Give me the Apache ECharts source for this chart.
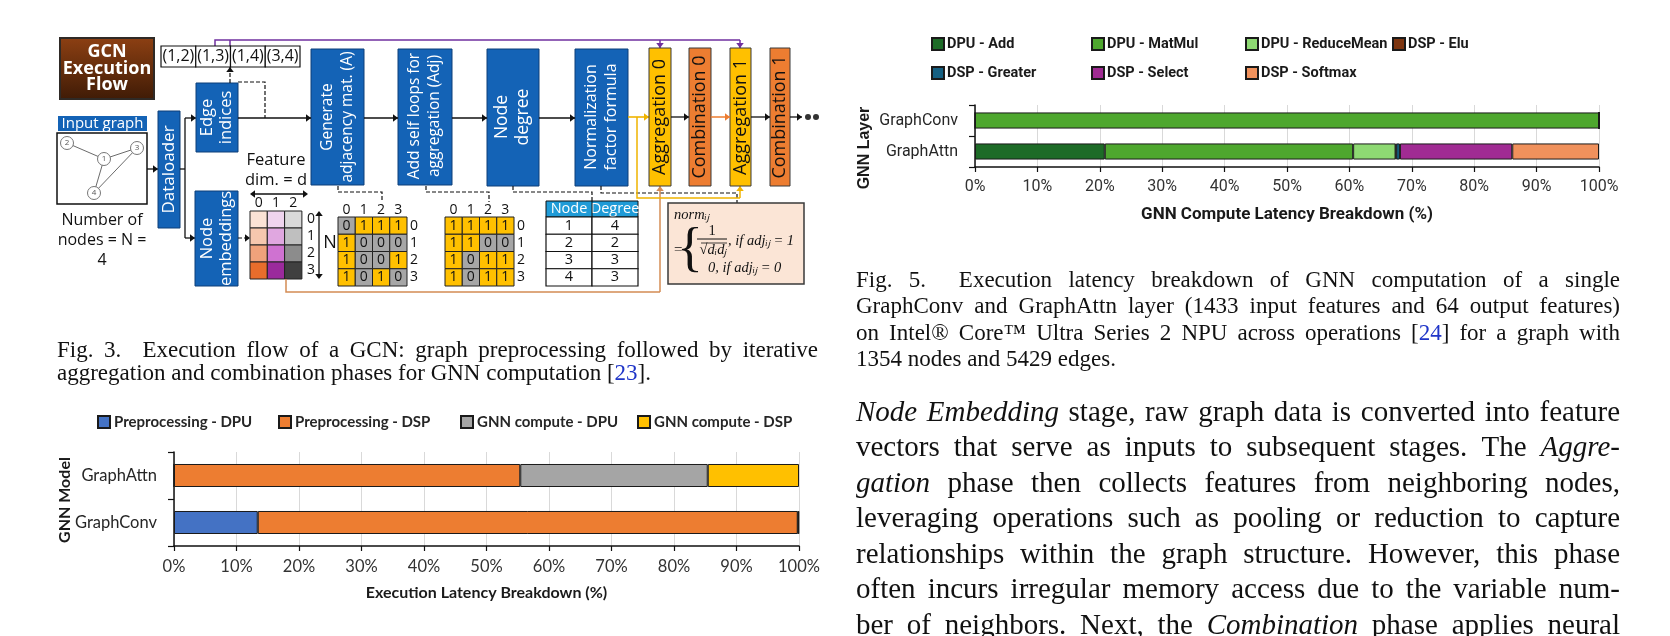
<!DOCTYPE html>
<html><head><meta charset="utf-8">
<script src="https://cdn.jsdelivr.net/npm/echarts@6/dist/echarts.min.js"></script>
<style>html,body{margin:0;padding:0;background:#fff}#c{width:1670px;height:636px}</style>
</head><body><div id="c"></div>
<script>
// ---------- DATA ----------
// Bottom-left chart: execution latency breakdown
const modelCategories = ['GraphConv', 'GraphAttn'];
const preprocessingDPU = [13.4, 0];
const preprocessingDSP = [86.4, 55.4];
const gnnComputeDPU = [0.1, 30.0];
const gnnComputeDSP = [0.1, 14.6];
const execSeriesNames = ['Preprocessing - DPU', 'Preprocessing - DSP', 'GNN compute - DPU', 'GNN compute - DSP'];

// Fig. 5 chart (top-right): GNN compute latency breakdown
const layerCategories = ['GraphAttn', 'GraphConv'];
const dpuAdd = [20.8, 0];
const dpuMatMul = [39.8, 100];
const dpuReduceMean = [6.8, 0];
const dspElu = [0.1, 0];
const dspGreater = [0.6, 0];
const dspSelect = [18.0, 0];
const dspSoftmax = [13.9, 0];
const opSeriesNames = ['DPU - Add', 'DPU - MatMul', 'DPU - ReduceMean', 'DSP - Elu', 'DSP - Greater', 'DSP - Select', 'DSP - Softmax'];

const percentTicks = [0, 10, 20, 30, 40, 50, 60, 70, 80, 90, 100];

// Diagram data
const edgeTuples = ['(1,2)', '(1,3)', '(1,4)', '(3,4)'];
const adjA = [[0,1,1,1],[1,0,0,0],[1,0,0,1],[1,0,1,0]];
const adjSelf = [[1,1,1,1],[1,1,0,0],[1,0,1,1],[1,0,1,1]];
const degreeNodes = ['1','2','3','4'];
const degreeValues = ['4','2','3','3'];

// Text
const fig3Caption = ['Fig. 3.  Execution flow of a GCN: graph preprocessing followed by iterative',
  'aggregation and combination phases for GNN computation [{23}].'];
const fig5Caption = ['Fig. 5.  Execution latency breakdown of GNN computation of a single',
  'GraphConv and GraphAttn layer (1433 input features and 64 output features)',
  'on Intel® Core™ Ultra Series 2 NPU across operations [{24}] for a graph with',
  '1354 nodes and 5429 edges.'];
const paragraph = ['*Node Embedding* stage, raw graph data is converted into feature',
  'vectors that serve as inputs to subsequent stages. The *Aggre-*',
  '*gation* phase then collects features from neighboring nodes,',
  'leveraging operations such as pooling or reduction to capture',
  'relationships within the graph structure. However, this phase',
  'often incurs irregular memory access due to the variable num-',
  'ber of neighbors. Next, the *Combination* phase applies neural'];

// ---------- GRAPHIC HELPERS ----------
const G = [];
const SANS = 'Open Sans';
function rect(x, y, w, h, fill, stroke, lw) {
  G.push({type:'rect', silent:true, shape:{x:x, y:y, width:w, height:h}, style:{fill:fill, stroke:stroke || null, lineWidth:lw || 1}});
}
function txt(x, y, t, o) {
  o = o || {};
  G.push({type:'text', silent:true, x:x, y:y, rotation:o.rot || 0, style:{text:t, fontSize:o.size || 14,
    fontFamily:o.family || SANS, fontWeight:o.weight || 'normal', fontStyle:o.style || 'normal',
    fill:o.color || '#111', align:o.align || 'center', verticalAlign:'middle', lineHeight:o.lh || undefined}});
}
function pline(points, color, lw, dash) {
  G.push({type:'polyline', silent:true, shape:{points:points}, style:{stroke:color, lineWidth:lw || 1.2, lineDash:dash || null, fill:null}});
}
function head(x, y, dir, color, s) {
  s = s || 5; const w = s * 0.75; let p;
  if (dir === 'r') p = [[x, y], [x - s, y - w], [x - s, y + w]];
  if (dir === 'l') p = [[x, y], [x + s, y - w], [x + s, y + w]];
  if (dir === 'u') p = [[x, y], [x - w, y + s], [x + w, y + s]];
  if (dir === 'd') p = [[x, y], [x - w, y - s], [x + w, y - s]];
  G.push({type:'polygon', silent:true, shape:{points:p}, style:{fill:color}});
}
function arrow(points, color, lw, dash) {
  pline(points, color, lw, dash);
  const a = points[points.length - 2], b = points[points.length - 1];
  let dir = b[0] > a[0] ? 'r' : b[0] < a[0] ? 'l' : b[1] < a[1] ? 'u' : 'd';
  head(b[0], b[1], dir, color);
}

// ---------- DIAGRAM ----------
const BLUE = '#1463b6', BLUE_B = '#0d3f78';
const R90 = Math.PI / 2;
// Title box
rect(60, 38, 94, 61, new echarts.graphic.LinearGradient(0, 0, 0, 1, [{offset:0, color:'#8d4013'}, {offset:1, color:'#3f1b06'}]), '#2f2a26', 2);
txt(107, 52, 'GCN', {size:18, weight:'bold', color:'#fff'});
txt(107, 68.5, 'Execution', {size:18, weight:'bold', color:'#fff'});
txt(107, 85, 'Flow', {size:18, weight:'bold', color:'#fff'});
// purple edges
pline([[215, 46], [215, 40], [740, 40]], '#7030a0', 1.5);
pline([[230, 46], [230, 40]], '#7030a0', 1.5);
arrow([[660, 40], [660, 48]], '#7030a0', 1.5);
arrow([[740, 40], [740, 48]], '#7030a0', 1.5);
// edge tuples
edgeTuples.forEach(function (t, i) {
  rect(161 + i * 34.75, 46, 34.75, 21, '#fff', '#111', 1.2);
  txt(161 + i * 34.75 + 17.4, 56.5, t, {size:16});
});
// input graph
rect(58, 116, 89, 15, BLUE);
txt(102.5, 123.5, 'Input graph', {size:15, color:'#fff'});
rect(57, 133, 90, 71, '#fff', '#111', 1.5);
const nodePos = {1:[104, 159], 2:[67, 143], 3:[137, 148], 4:[94, 193]};
[[2,1],[1,3],[1,4],[3,4]].forEach(function (e) { pline([nodePos[e[0]], nodePos[e[1]]], '#444', 0.8); });
Object.keys(nodePos).forEach(function (k) {
  G.push({type:'circle', silent:true, shape:{cx:nodePos[k][0], cy:nodePos[k][1], r:6.5}, style:{fill:'#fff', stroke:'#777', lineWidth:1}});
  txt(nodePos[k][0], nodePos[k][1], k, {size:8, color:'#555'});
});
txt(102, 220, 'Number of', {size:16});
txt(102, 240, 'nodes = N =', {size:16});
txt(102, 260, '4', {size:16});
arrow([[147, 169], [158, 169]], '#111', 1.3);
// dataloader
rect(158, 111, 22, 117, BLUE, BLUE_B, 1);
txt(169, 169.5, 'Dataloader', {size:17, color:'#fff', rot:R90});
pline([[180, 169], [185, 169]], '#111', 1.3);
pline([[185, 118], [185, 238]], '#111', 1.3);
arrow([[185, 118], [196, 118]], '#111', 1.3);
arrow([[185, 238], [195, 238]], '#111', 1.3);
// edge indices / node embeddings
rect(196, 83, 42, 69, BLUE, BLUE_B, 1);
txt(217, 117.5, 'Edge\nindices', {size:16.5, color:'#fff', rot:R90, lh:19});
rect(195, 191, 43, 95, BLUE, BLUE_B, 1);
txt(216.5, 238.5, 'Node\nembeddings', {size:16.5, color:'#fff', rot:R90, lh:19});
arrow([[230, 83], [230, 67]], '#111', 1.2, [4, 2]);
pline([[238, 82], [265, 82], [265, 118]], '#111', 1.2, [4, 2]);
arrow([[238, 238], [250, 238]], '#111', 1.2, [4, 2]);
// feature dim
txt(276, 160, 'Feature', {size:16.5});
txt(276, 180, 'dim. = d', {size:16.5});
pline([[252, 194], [306, 194]], '#111', 1.3);
head(250, 194, 'l', '#111'); head(308, 194, 'r', '#111');
const featCols = [['#fbe2d5', '#f6c7ae', '#f0a27b', '#e86d2c'], ['#efd4ee', '#e0a7e0', '#cf72d1', '#9b2a9c'], ['#d9d9d9', '#bfbfbf', '#8c8c8c', '#404040']];
for (let c = 0; c < 3; c++) {
  txt(258.7 + c * 17.3, 203, String(c), {size:14});
  for (let r = 0; r < 4; r++) rect(250 + c * 17.3, 211 + r * 17, 17.3, 17, featCols[c][r], '#222', 1);
}
for (let r = 0; r < 4; r++) txt(311, 219.5 + r * 17, String(r), {size:14});
pline([[319, 213], [319, 277]], '#111', 1.3);
head(319, 211, 'u', '#111'); head(319, 279, 'd', '#111');
txt(330, 243, 'N', {size:18});
// matrices
function matrix(x0, vals) {
  const cs = 17.25;
  for (let c = 0; c < 4; c++) txt(x0 + cs * (c + 0.5), 210, String(c), {size:14});
  for (let r = 0; r < 4; r++) {
    for (let c = 0; c < 4; c++) {
      rect(x0 + c * cs, 217 + r * cs, cs, cs, vals[r][c] ? '#ffc000' : '#a6a6a6', '#222', 1);
      txt(x0 + cs * (c + 0.5), 217 + cs * (r + 0.5), String(vals[r][c]), {size:14});
    }
    txt(x0 + 4 * cs + 7, 217 + cs * (r + 0.5), String(r), {size:14});
  }
}
matrix(338, adjA);
matrix(445, adjSelf);
// main blue boxes
rect(311, 49, 53, 136, BLUE, BLUE_B, 1);
txt(337.5, 117, 'Generate\nadjacency mat. (A)', {size:15.5, color:'#fff', rot:R90, lh:20});
rect(398, 49, 54, 136, BLUE, BLUE_B, 1);
txt(425, 116, 'Add self loops for\naggregation (Adj)', {size:15.5, color:'#fff', rot:R90, lh:20});
rect(487, 49, 52, 137, BLUE, BLUE_B, 1);
txt(513, 117, 'Node\ndegree', {size:17.5, color:'#fff', rot:R90, lh:21});
rect(575, 49, 53, 137, BLUE, BLUE_B, 1);
txt(601.5, 117, 'Normalization\nfactor formula', {size:16, color:'#fff', rot:R90, lh:20});
arrow([[238, 118], [311, 118]], '#111', 1.3);
arrow([[364, 118], [398, 118]], '#111', 1.3);
arrow([[452, 118], [487, 118]], '#111', 1.3);
arrow([[539, 118], [575, 118]], '#111', 1.3);
// dashed connectors
pline([[338, 186], [338, 192], [382, 192], [382, 202]], '#111', 1.2, [4, 2]);
pline([[426, 186], [426, 192], [489, 192], [489, 202]], '#111', 1.2, [4, 2]);
pline([[513, 186], [513, 192], [592, 192], [592, 201]], '#111', 1.2, [4, 2]);
pline([[601, 186], [601, 193], [737, 193], [737, 203]], '#111', 1.2, [4, 2]);
// degree table
rect(546, 201, 92, 16, '#1f9bd7', '#111', 1);
txt(569, 209, 'Node', {size:14.5, color:'#fff'});
txt(615, 209, 'Degree', {size:14.5, color:'#fff'});
for (let r = 0; r < 4; r++) {
  rect(546, 217 + r * 17.25, 46, 17.25, '#fff', '#111', 1.2);
  rect(592, 217 + r * 17.25, 46, 17.25, '#fff', '#111', 1.2);
  txt(569, 217 + r * 17.25 + 8.6, degreeNodes[r], {size:14.5});
  txt(615, 217 + r * 17.25 + 8.6, degreeValues[r], {size:14.5});
}
pline([[592, 201], [592, 217]], '#111', 1);
// formula box
rect(668, 203, 136, 81, '#fbe5d6', '#3a3a3a', 1.5);
const SER = 'Liberation Serif';
txt(674, 215, 'normᵢⱼ', {size:14.5, family:SER, style:'italic', align:'left'});
txt(674, 250, '=', {size:15, family:SER, align:'left'});
txt(690, 251, '{', {size:54, family:SER, align:'center'});
txt(712, 231, '1', {size:14.5, family:SER});
pline([[697, 239], [727, 239]], '#111', 1);
txt(713, 250, '√dᵢdⱼ', {size:14.5, family:SER, style:'italic'});
pline([[701, 243], [727, 243]], '#111', 0.8);
txt(728, 241, ', if adjᵢⱼ = 1', {size:14.5, family:SER, style:'italic', align:'left'});
txt(708, 268, '0, if adjᵢⱼ = 0', {size:14.5, family:SER, style:'italic', align:'left'});
// colored flows
pline([[286, 279], [286, 292], [660, 292]], '#d48c54', 1.5);
arrow([[660, 292], [660, 186]], '#d48c54', 1.5);
arrow([[628, 117], [649, 117]], '#f0b400', 1.6);
pline([[637, 117], [637, 198], [740, 198]], '#f0b400', 1.5);
arrow([[740, 198], [740, 186]], '#f0b400', 1.5);
// aggregation / combination
rect(649, 48, 22, 138, '#ffc000', '#3a3a3a', 1);
txt(660, 117, 'Aggregation 0', {size:18, rot:R90});
rect(689, 48, 22, 138, '#ed7d31', '#3a3a3a', 1);
txt(700, 117, 'Combination 0', {size:18, rot:R90});
rect(730, 48, 21, 138, '#ffc000', '#3a3a3a', 1);
txt(740.5, 117, 'Aggregation 1', {size:18, rot:R90});
rect(770, 48, 20, 138, '#ed7d31', '#3a3a3a', 1);
txt(780, 117, 'Combination 1', {size:18, rot:R90});
arrow([[671, 117], [689, 117]], '#111', 1.3);
arrow([[711, 117], [730, 117]], '#ed7d31', 1.5);
arrow([[751, 117], [770, 117]], '#111', 1.3);
arrow([[790, 117], [802, 117]], '#111', 1.3);
G.push({type:'circle', silent:true, shape:{cx:808, cy:117, r:3}, style:{fill:'#333'}});
G.push({type:'circle', silent:true, shape:{cx:816, cy:117, r:3}, style:{fill:'#333'}});

// ---------- TEXT LAYOUT ----------
const mctx = document.createElement('canvas').getContext('2d');
function mw(seg, size) { mctx.font = (seg.i ? 'italic ' : '') + size + 'px "Liberation Serif"'; return mctx.measureText(seg.t).width; }
function parseLine(str, st) {
  const words = [];
  str.split(' ').forEach(function (w) {
    const segs = []; let cur = '';
    const flush = function () { if (cur) { segs.push({t:cur, i:st.i, b:st.b}); cur = ''; } };
    for (const ch of w) {
      if (ch === '*') { flush(); st.i = !st.i; }
      else if (ch === '{') { flush(); st.b = true; }
      else if (ch === '}') { flush(); st.b = false; }
      else cur += ch;
    }
    flush(); words.push(segs);
  });
  return words;
}
function layoutBlock(lines, x0, x1, y0, lh, size, justifyLast) {
  const st = {i:false, b:false};
  lines.forEach(function (str, li) {
    const words = parseLine(str, st);
    const widths = words.map(function (ws) { return ws.reduce(function (s, g) { return s + mw(g, size); }, 0); });
    const total = widths.reduce(function (a, b) { return a + b; }, 0);
    const justify = li < lines.length - 1 || justifyLast;
    const gap = justify && words.length > 1 ? (x1 - x0 - total) / (words.length - 1) : mw({t:' ', i:false}, size);
    let x = x0; const y = y0 + li * lh;
    words.forEach(function (ws, k) {
      let xx = x;
      ws.forEach(function (g) {
        G.push({type:'text', silent:true, x:xx, y:y, style:{text:g.t, fontFamily:'Liberation Serif', fontSize:size,
          fontStyle:g.i ? 'italic' : 'normal', fill:g.b ? '#1f35c8' : '#111', align:'left', verticalAlign:'middle'}});
        xx += mw(g, size);
      });
      x += widths[k] + gap;
    });
  });
}
layoutBlock(fig3Caption, 57, 818, 351, 23, 23, false);
layoutBlock(fig5Caption, 856, 1620, 281, 26.4, 23, false);
layoutBlock(paragraph, 856, 1620, 413, 35.5, 29, true);

// axis names (rotated)
txt(65, 500, 'GNN Model', {size:16, weight:'bold', family:'Lato', color:'#1a1a1a', rot:R90});
txt(865, 148, 'GNN Layer', {size:16, weight:'bold', family:'Liberation Sans', color:'#1a1a1a', rot:R90});

// ---------- CHART ----------
const execColors = ['#4472c4', '#ed7d31', '#a5a5a5', '#ffc000'];
const execData = [preprocessingDPU, preprocessingDSP, gnnComputeDPU, gnnComputeDSP];
const opColors = ['#1d6b27', '#4ea72e', '#8ed973', '#7d3510', '#156082', '#a02b93', '#f0915c'];
const opData = [dpuAdd, dpuMatMul, dpuReduceMean, dspElu, dspGreater, dspSelect, dspSoftmax];

function xAxisCfg(grid, family, name, size, nameSize) {
  return {gridIndex:grid, type:'value', min:0, max:100, interval:10,
    axisLabel:{formatter:function (v) { return percentTicks.indexOf(v) >= 0 ? v + '%' : ''; }, fontFamily:family, fontSize:size, color:'#333', margin:12},
    axisLine:{show:true, lineStyle:{color:'#111', width:1.5}},
    axisTick:{show:true, length:5, lineStyle:{color:'#111', width:1.2}},
    splitLine:{show:true, lineStyle:{color:'#d9d9d9', width:1}},
    name:name, nameLocation:'middle', nameGap:39,
    nameTextStyle:{fontFamily:family, fontWeight:'bold', fontSize:nameSize, color:'#1a1a1a'}};
}
function yAxisCfg(grid, cats, family, size) {
  return {gridIndex:grid, type:'category', data:cats,
    axisLine:{show:true, lineStyle:{color:'#111', width:1.5}},
    axisTick:{show:true, length:6, lineStyle:{color:'#111', width:1.2}},
    axisLabel:{fontFamily:family, fontSize:size, color:'#262626', margin:17}};
}
const series = [];
execSeriesNames.forEach(function (n, i) {
  series.push({name:n, type:'bar', stack:'exec', xAxisIndex:0, yAxisIndex:0, barWidth:'49%', data:execData[i],
    itemStyle:{color:execColors[i], borderColor:'#1a1a1a', borderWidth:1}, emphasis:{disabled:true}});
});
opSeriesNames.forEach(function (n, i) {
  series.push({name:n, type:'bar', stack:'ops', xAxisIndex:1, yAxisIndex:1, barWidth:'52%', data:opData[i],
    itemStyle:{color:opColors[i], borderColor:'#1a1a1a', borderWidth:1}, emphasis:{disabled:true}});
});
const legends = [];
const execLegendX = [97, 278, 460, 637];
execSeriesNames.forEach(function (n, i) {
  legends.push({data:[n], left:execLegendX[i], top:414, padding:0, itemWidth:12, itemHeight:12, itemGap:0,
    selectedMode:false, icon:'rect', textStyle:{fontFamily:'Lato', fontWeight:'bold', fontSize:15, color:'#262626', lineHeight:16, padding:[0, 0, 0, -1]}});
});
const opLegendPos = [[931, 44], [1091, 44], [1245, 44], [1392, 44], [931, 73], [1091, 73], [1245, 73]];
opSeriesNames.forEach(function (n, i) {
  legends.push({data:[n], left:opLegendPos[i][0], top:opLegendPos[i][1] - 8, padding:0, itemWidth:12, itemHeight:12, itemGap:0,
    selectedMode:false, icon:'rect', textStyle:{fontFamily:'Roboto', fontWeight:'bold', fontSize:14.5, color:'#1a1a1a', lineHeight:16, padding:[0, 0, 0, -2]}});
});

const chart = echarts.init(document.getElementById('c'), null, {renderer:'canvas'});
chart.setOption({
  animation:false,
  backgroundColor:'#fff',
  grid:[{left:174, top:452, width:625, height:94}, {left:975, top:105, width:624, height:62}],
  xAxis:[xAxisCfg(0, 'Lato', 'Execution Latency Breakdown (%)', 16.5, 16), xAxisCfg(1, 'Roboto', 'GNN Compute Latency Breakdown (%)', 16, 17)],
  yAxis:[yAxisCfg(0, modelCategories, 'Lato', 16.5), yAxisCfg(1, layerCategories, 'Roboto', 16)],
  legend:legends,
  series:series,
  graphic:{elements:G}
});
</script></body></html>
